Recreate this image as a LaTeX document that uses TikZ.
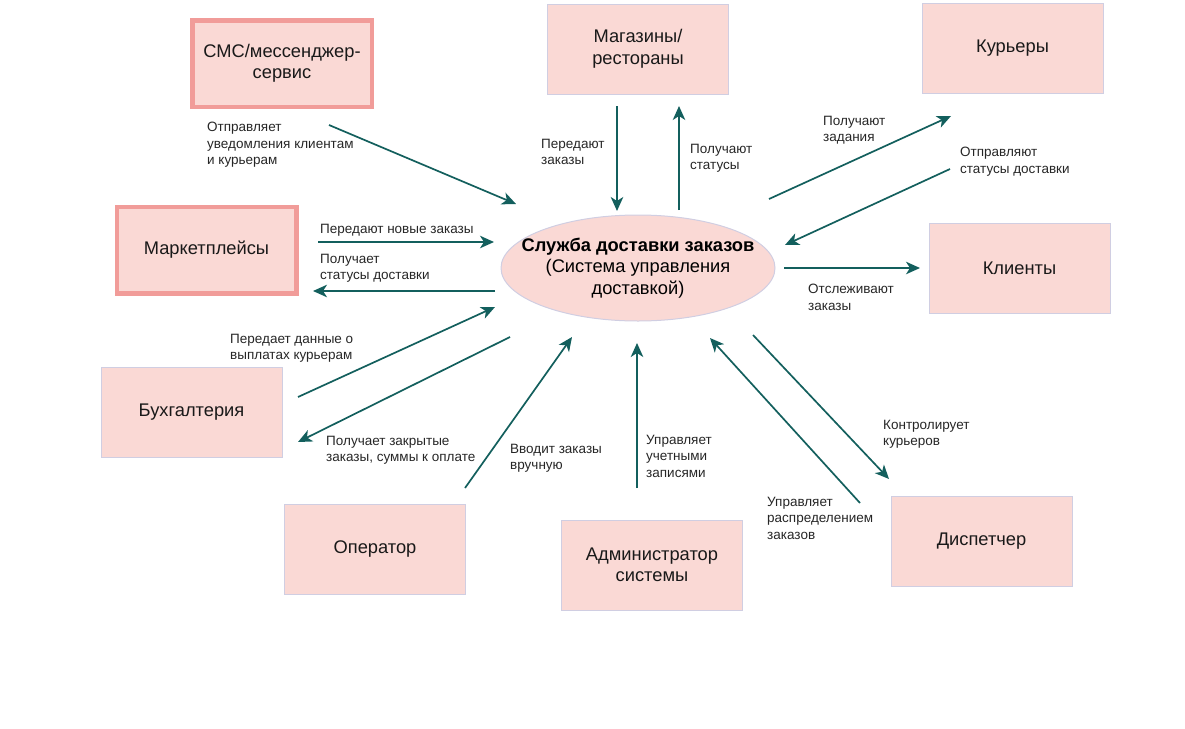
\documentclass[tikz,border=0pt]{standalone}
\usepackage{fontspec}
\setmainfont{Liberation Sans}
\usetikzlibrary{shapes.geometric,arrows.meta,positioning}
\definecolor{boxfill}{HTML}{FAD9D5}
\definecolor{boxline}{HTML}{D0CEE2}
\definecolor{extline}{HTML}{F19C99}
\definecolor{flowcol}{HTML}{135F5D}

\begin{document}
\begin{tikzpicture}[x=1pt,y=-1pt,
    actor/.style={draw=boxline,line width=1pt,fill=boxfill,minimum width=181pt,minimum height=90pt,
        align=center,inner sep=2pt,text=black!90,font=\fontsize{18.3}{21.5}\selectfont},
    external/.style={actor,draw=extline,line width=4.5pt,minimum width=179.5pt,minimum height=86.5pt},
    flowarrow/.style={draw=flowcol,line width=1.7pt,-{Stealth[length=14pt,width=12.5pt,inset=4pt]}},
    lbl/.style={anchor=north west,align=left,inner sep=0pt,text=black!85,font=\fontsize{13.5}{16.4}\selectfont}]

    \useasboundingbox (0,0) rectangle (1185,728);

    %%system in the middle
    \node[ellipse,draw=boxline,line width=1pt,fill=boxfill,minimum width=274pt,minimum height=106pt,
        inner xsep=-30pt,inner ysep=2pt,align=center,font=\fontsize{18.3}{21.5}\selectfont] (core) at (638,268)
        {\textbf{Служба доставки заказов}\\(Система управления\\доставкой)};

    %%participants
    \node[external] (sms) at (282,63.5) {СМС/мессенджер-\\сервис};
    \node[actor] (shops) at (638,49) {Магазины/\\рестораны};
    \node[actor] (couriers) at (1012.5,48.5) {Курьеры};
    \node[external] (market) at (206.5,250) {Маркетплейсы};
    \node[actor] (clients) at (1019.5,268) {Клиенты};
    \node[actor] (accounting) at (191.5,412.5) {Бухгалтерия};
    \node[actor] (operator) at (375,549) {Оператор};
    \node[actor] (admin) at (652,565) {Администратор\\системы};
    \node[actor] (dispatcher) at (981.5,541.5) {Диспетчер};

    %%arrow ends
    \coordinate (smsout) at (329,125);       \coordinate (smsin) at (516,204);
    \coordinate (shopsout) at (617,106);     \coordinate (shopsin) at (617,211);
    \coordinate (shopsback) at (679,210);    \coordinate (shopsget) at (679,106);
    \coordinate (courtask) at (769,199);     \coordinate (courget) at (951,116);
    \coordinate (courout) at (950,169);      \coordinate (courin) at (785,245);
    \coordinate (clientout) at (784,268);    \coordinate (clientin) at (920,268);
    \coordinate (mktout) at (318,242);       \coordinate (mktin) at (494,242);
    \coordinate (mktback) at (495,291);      \coordinate (mktget) at (313,291);
    \coordinate (accout) at (298,397);       \coordinate (accin) at (495,307);
    \coordinate (accback) at (510,337);      \coordinate (accget) at (298,442);
    \coordinate (opout) at (465,488);        \coordinate (opin) at (572,337);
    \coordinate (admout) at (637,488);       \coordinate (admin) at (637,343);
    \coordinate (dispout) at (860,503);      \coordinate (dispin) at (710,338);
    \coordinate (ctlout) at (753,335);       \coordinate (ctlin) at (889,479);

    %%flows
    \draw[flowarrow] (smsout) -- (smsin);
    \draw[flowarrow] (shopsout) -- (shopsin);
    \draw[flowarrow] (shopsback) -- (shopsget);
    \draw[flowarrow] (courtask) -- (courget);
    \draw[flowarrow] (courout) -- (courin);
    \draw[flowarrow] (clientout) -- (clientin);
    \draw[flowarrow] (mktout) -- (mktin);
    \draw[flowarrow] (mktback) -- (mktget);
    \draw[flowarrow] (accout) -- (accin);
    \draw[flowarrow] (accback) -- (accget);
    \draw[flowarrow] (opout) -- (opin);
    \draw[flowarrow] (admout) -- (admin);
    \draw[flowarrow] (dispout) -- (dispin);
    \draw[flowarrow] (ctlout) -- (ctlin);

    %%labels
    \node[lbl] (notifytext) at (207,122) {Отправляет\\уведомления клиентам\\и курьерам};
    \node[lbl] (shopsendtext) at (541,139) {Передают\\заказы};
    \node[lbl] (shopgettext) at (690,144) {Получают\\статусы};
    \node[lbl] (courgettext) at (823,116) {Получают\\задания};
    \node[lbl] (coursendtext) at (960,147) {Отправляют\\статусы доставки};
    \node[lbl] (mktsendtext) at (320,224) {Передают новые заказы};
    \node[lbl] (mktgettext) at (320,254) {Получает\\статусы доставки};
    \node[lbl] (tracktext) at (808,284) {Отслеживают\\заказы};
    \node[lbl] (accsendtext) at (230,334) {Передает данные о\\выплатах курьерам};
    \node[lbl] (accgettext) at (326,436) {Получает закрытые\\заказы, суммы к оплате};
    \node[lbl] (optext) at (510,444) {Вводит заказы\\вручную};
    \node[lbl] (admtext) at (646,435) {Управляет\\учетными\\записями};
    \node[lbl] (ctltext) at (883,420) {Контролирует\\курьеров};
    \node[lbl] (disptext) at (767,497) {Управляет\\распределением\\заказов};

\end{tikzpicture}
\end{document}
